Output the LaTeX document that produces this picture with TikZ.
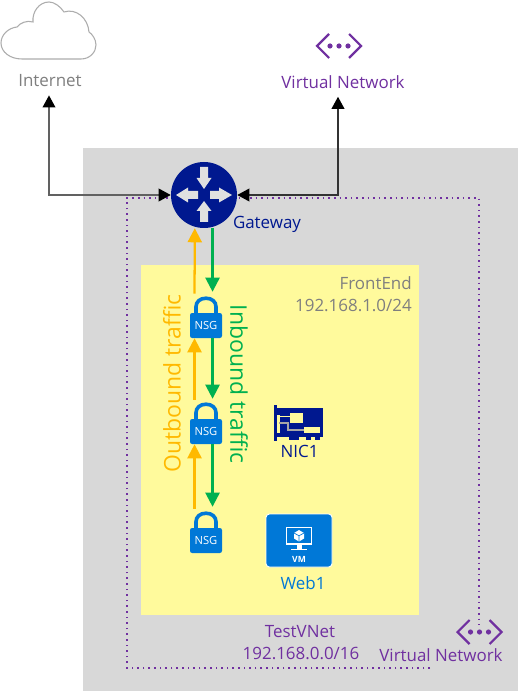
\documentclass[tikz,border=0pt]{standalone}
\usepackage{fontspec}
\setmainfont{Open Sans}
\usetikzlibrary{arrows.meta,calc}
\definecolor{panel}{HTML}{D8D8D8}
\definecolor{subnet}{HTML}{FFFA9C}
\definecolor{navy}{HTML}{00188F}
\definecolor{azure}{HTML}{0078D7}
\definecolor{amber}{HTML}{FFB900}
\definecolor{leaf}{HTML}{00B050}
\definecolor{vio}{HTML}{7030A0}
\definecolor{greytxt}{HTML}{7F7F7F}
\tikzset{
  lab/.style={inner sep=0pt,font=\fontsize{12.7}{15}\selectfont},
  biglab/.style={inner sep=0pt,font=\fontsize{17.2}{20}\selectfont},
  lockbody/.style={fill=azure,rounded corners=1.6pt,minimum width=24pt,minimum height=18.75pt,inner sep=0pt,text=white,font=\fontsize{8.4}{10}\selectfont},
  outarrow/.style={draw=amber,line width=1.7pt,-{Triangle[length=10.5pt,width=10.5pt]}},
  inarrow/.style={draw=leaf,line width=1.7pt,-{Triangle[length=10.5pt,width=10.5pt]}},
  link/.style={line width=1.1pt,{Triangle[length=9pt,width=9.5pt,black]}-{Triangle[length=9pt,width=9.5pt,black]}},
  chev/.style={draw=vio,line width=1.6pt,fill=none},
  vdot/.style={fill=vio,draw=none},
  boundary/.style={draw=vio,line width=1.2pt,dash pattern=on 1.2pt off 3pt},
}
\newcommand{\locknode}[3]{%
  \node[lockbody] (#1) at (#2,#3) {NSG};
  \begin{scope}[shift={(#1.north)}]
    \draw[azure,line width=2.7pt] (-10,1) -- (-10,-6) .. controls (-10,-11) and (-6,-14.5) .. (0,-14.5) .. controls (6,-14.5) and (10,-11) .. (10,-6) -- (10,1);
  \end{scope}}
\newcommand{\vneticon}[2]{%
  \begin{scope}[shift={(#1,#2)}]
    \draw[chev] (-10,-12) -- (-22,0) -- (-10,12);
    \draw[chev] (10,-12) -- (22,0) -- (10,12);
    \fill[vdot] (-9,0) circle (2.6);
    \fill[vdot] (0,0) circle (2.6);
    \fill[vdot] (9,0) circle (2.6);
  \end{scope}}
\begin{document}
\begin{tikzpicture}[x=0.75pt,y=-0.75pt]
\useasboundingbox (0,0) rectangle (523,691);
\fill[white] (0,0) rectangle (523,691);
% panels
\fill[panel] (83,148) rectangle (518,691);
\fill[subnet] (141,265) rectangle (419,615);
% cloud
\draw[color=black!32,line width=0.8pt,fill=white]
  (22,59) -- (81,59) .. controls (90,59) and (96,52) .. (96,45)
  .. controls (96,39) and (92,34) .. (89,32) .. controls (88,18) and (76,8) .. (64,12)
  .. controls (60,6) and (54,2) .. (49,2) .. controls (39,2) and (32,12) .. (33,22)
  .. controls (27,20) and (20,23) .. (17,27) .. controls (8,28) and (1,35) .. (1,43)
  .. controls (1,52) and (10,59) .. (22,59) -- cycle;
\node[lab,text=greytxt] (inetlabel) at (50,81) {Internet};
\vneticon{339}{46}
\node[lab,text=vio] (vnetlabel) at (343,82) {Virtual Network};
% boundary
\draw[boundary] (430,668) -- (127,668) -- (127,198) -- (479,198) -- (479,625);
% gateway
\node[circle,fill=navy,minimum size=49.5pt,inner sep=0pt] (gw) at (204,195) {};
\begin{scope}[shift={(gw.center)}]
  \fill[black!12] (-4,-28) -- (4,-28) -- (4,-17) -- (7.5,-17) -- (0,-6) -- (-7.5,-17) -- (-4,-17) -- cycle;
  \fill[black!12] (-4,27) -- (4,27) -- (4,16) -- (7.5,16) -- (0,6) -- (-7.5,16) -- (-4,16) -- cycle;
  \fill[black!12] (-6,-4) -- (-6,4) -- (-16,4) -- (-16,7.5) -- (-28,0) -- (-16,-7.5) -- (-16,-4) -- cycle;
  \fill[black!12] (6,-4) -- (6,4) -- (15,4) -- (15,7.5) -- (28,0) -- (15,-7.5) -- (15,-4) -- cycle;
\end{scope}
\node[lab,text=navy] (gwlabel) at (267,224) {Gateway};
% locks
\locknode{lockA}{206}{325.5}
\locknode{lockB}{206}{431.5}
\locknode{lockC}{206}{540.5}
% outbound arrows
\draw[outarrow] ([shift={(-8.6pt,14.25pt)}]lockA.north) -- ([xshift=-6.9pt]gw.south);
\draw[outarrow] ([shift={(-8.6pt,14.25pt)}]lockB.north) -- ([xshift=-8.6pt]lockA.south);
\draw[outarrow] ([shift={(-8.6pt,14.25pt)}]lockC.north) -- ([xshift=-8.6pt]lockB.south);
% inbound arrows
\draw[inarrow] ([xshift=6.4pt]gw.south) -- ([shift={(4.9pt,15.75pt)}]lockA.north);
\draw[inarrow] ([xshift=4.9pt]lockA.south) -- ([shift={(4.9pt,15pt)}]lockB.north);
\draw[inarrow] ([xshift=4.9pt]lockB.south) -- ([shift={(4.9pt,15.75pt)}]lockC.north);
% connectors to gateway
\draw[link,draw=black!62] (gw.west) -| ([shift={(-0.75pt,-6pt)}]inetlabel.south);
\draw[link,draw=black!80] (gw.east) -| ([shift={(-3.75pt,-6pt)}]vnetlabel.south);
% rotated labels
\node[biglab,text=amber,rotate=90] (outlabel) at (172,383.5) {Outbound traffic};
\node[biglab,text=leaf,rotate=-90] (inlabel) at (239,384) {Inbound traffic};
% subnet labels
\node[lab,text=greytxt,anchor=east] (felabel) at (412,283) {FrontEnd};
\node[lab,text=greytxt,anchor=east] (felabelb) at (412,305) {192.168.1.0/24};
% NIC
\fill[navy] (274,405) rectangle (277,441);
\fill[navy] (277,408) rectangle (323,437);
\fill[navy] (289,437) rectangle (299,440);
\fill[navy] (306,437) rectangle (311,440);
\fill[navy] (315,437) rectangle (320,440);
\fill[subnet] (290,413) rectangle (303,423);
\fill[subnet] (304,427) rectangle (320,433);
\fill[subnet] (277,415) rectangle (279.5,433);
\draw[subnet,line width=0.7pt] (277,416) -- (290,416);
\draw[black!35,line width=0.8pt] (279,423) -- (288,423) -- (288,430) -- (304,430);
\node[lab,text=navy] (niclabel) at (299.5,451) {NIC1};
% VM tile
\node[fill=azure,draw=white,line width=0.7pt,rounded corners=2.5pt,minimum width=49.5pt,minimum height=39.75pt,inner sep=0pt] (vmtile) at (299,540.5) {};
\begin{scope}[shift={(vmtile.center)}]
  \draw[white,line width=1.3pt] (-12.5,-13) rectangle (12.5,3.5);
  \fill[white] (-2.5,3.5) rectangle (2.5,8);
  \fill[white] (-8,8) rectangle (8,9.5);
  \fill[white] (0,-10.5) -- (5,-7.5) -- (5,-2) -- (0,1) -- (-5,-2) -- (-5,-7.5) -- cycle;
  \draw[azure,line width=0.5pt] (-5,-7.5) -- (0,-4.7) -- (5,-7.5) (0,-4.7) -- (0,1);
  \node[text=white,inner sep=0pt,font=\bfseries\fontsize{6.4}{8}\selectfont] (vmtext) at (0,19) {VM};
\end{scope}
\node[lab,text=azure] (weblabel) at (303,583.5) {Web1};
% vnet bottom
\node[lab,text=vio] (tvlabel) at (300,632) {TestVNet};
\node[lab,text=vio] (tvlabelb) at (301,653) {192.168.0.0/16};
\vneticon{479.5}{632}
\node[lab,text=vio] (vnetlabelb) at (441,655) {Virtual Network};
\end{tikzpicture}
\end{document}
